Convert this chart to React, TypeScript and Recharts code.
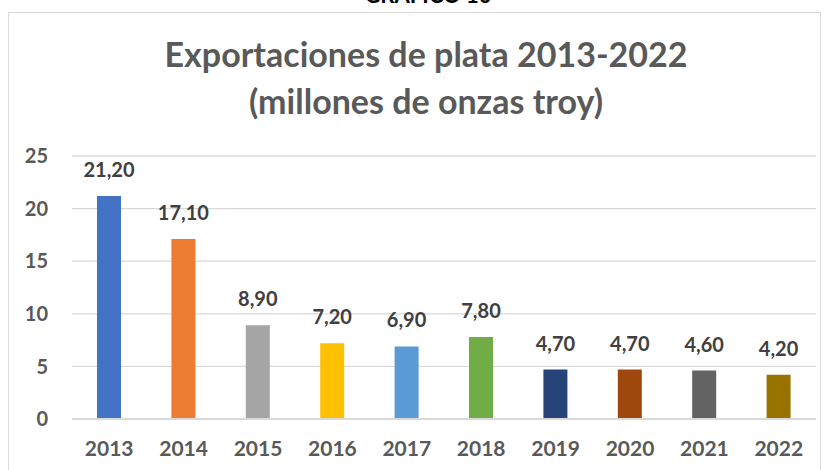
import { BarChart, Bar, XAxis, YAxis, CartesianGrid, Cell, LabelList } from 'recharts'

// Exportaciones de plata, millones de onzas troy
const years = ['2013', '2014', '2015', '2016', '2017', '2018', '2019', '2020', '2021', '2022']
const exportaciones = [21.2, 17.1, 8.9, 7.2, 6.9, 7.8, 4.7, 4.7, 4.6, 4.2]
const barColors = ['#4472C4', '#ED7D31', '#A5A5A5', '#FFC000', '#5B9BD5', '#70AD47', '#264478', '#9E480E', '#636363', '#997300']
const yTicks = [0, 5, 10, 15, 20, 25]

const data = years.map((year, i) => ({ year, value: exportaciones[i] }))

const FONT = 'Lato, "Open Sans", sans-serif'

const fmt = (v: number) => v.toFixed(2).replace('.', ',')

export default function App() {
  return (
    <div style={{ position: 'absolute', left: 0, top: 0, width: 832, height: 470, overflow: 'hidden', background: '#fff' }}>
      {/* marco del gráfico */}
      <div
        style={{
          position: 'absolute',
          left: 8,
          top: 12,
          width: 813,
          height: 480,
          border: '1px solid #D9D9D9',
          boxSizing: 'border-box',
        }}
      />
      <svg width={832} height={130} style={{ position: 'absolute', left: 0, top: 0 }}>
        <text x={428} y={3} textAnchor="middle" fontFamily={FONT} fontWeight={700} fontSize={22} fill="#000">
          GRÁFICO 10
        </text>
        <text x={426} y={67} textAnchor="middle" fontFamily={FONT} fontWeight={700} fontSize={34} fill="#595959">
          Exportaciones de plata 2013-2022
        </text>
        <text x={426} y={114} textAnchor="middle" fontFamily={FONT} fontWeight={700} fontSize={34} fill="#595959">
          (millones de onzas troy)
        </text>
      </svg>
      <div style={{ position: 'absolute', left: 0, top: 0 }}>
        <BarChart
          width={832}
          height={470}
          data={data}
          margin={{ top: 156, right: 16, bottom: 21, left: 0 }}
        >
          <CartesianGrid vertical={false} stroke="#D9D9D9" strokeWidth={1.3} />
          <XAxis
            dataKey="year"
            height={30}
            axisLine={{ stroke: '#D9D9D9', strokeWidth: 2 }}
            tickLine={false}
            tickSize={0}
            tickMargin={22}
            tick={{ fontFamily: FONT, fontWeight: 700, fontSize: 21, fill: '#595959' }}
          />
          <YAxis
            width={72}
            domain={[0, 25]}
            ticks={yTicks}
            axisLine={false}
            tickLine={false}
            tickSize={0}
            tickMargin={24}
            tick={{ fontFamily: FONT, fontWeight: 700, fontSize: 20, fill: '#595959' }}
          />
          <Bar dataKey="value" barSize={24} isAnimationActive={false}>
            {data.map((d, i) => (
              <Cell key={d.year} fill={barColors[i]} />
            ))}
            <LabelList
              dataKey="value"
              position="top"
              offset={19}
              formatter={(v: any) => fmt(Number(v))}
              style={{ fontFamily: FONT, fontWeight: 700, fontSize: 20, fill: '#404040' }}
            />
          </Bar>
        </BarChart>
      </div>
    </div>
  )
}
